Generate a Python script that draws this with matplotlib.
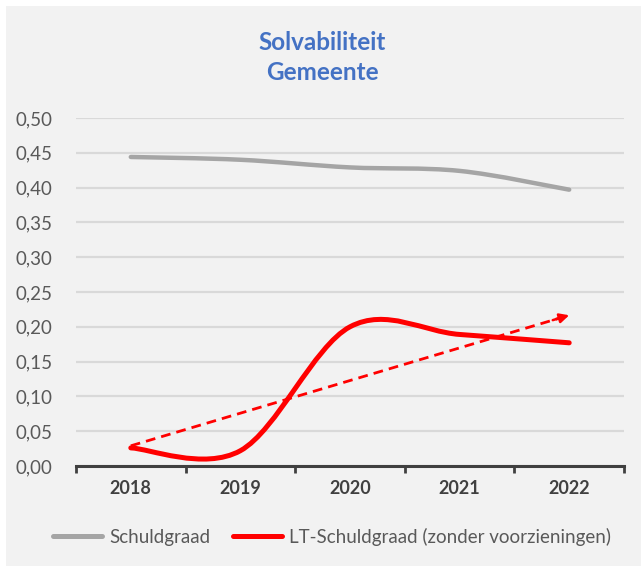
import numpy as np
import matplotlib.pyplot as plt
from matplotlib.path import Path
from matplotlib.patches import PathPatch, Rectangle
from matplotlib.lines import Line2D

plt.rcParams['font.family'] = ['Lato', 'DejaVu Sans']

years = ['2018', '2019', '2020', '2021', '2022']
schuldgraad = [0.444, 0.440, 0.429, 0.424, 0.397]
lt_schuldgraad = [0.026, 0.022, 0.200, 0.189, 0.177]
yticks = [0.0, 0.05, 0.10, 0.15, 0.20, 0.25, 0.30, 0.35, 0.40, 0.45, 0.50]


def smooth_path(xs, ys):
    # Excel-style smoothed line: cubic bezier through every point
    pts = np.column_stack([xs, ys]).astype(float)
    n = len(pts)
    verts = [pts[0]]
    codes = [Path.MOVETO]
    for i in range(n - 1):
        p0 = pts[max(i - 1, 0)]
        p1 = pts[i]
        p2 = pts[i + 1]
        p3 = pts[min(i + 2, n - 1)]
        c1 = p1 + (p2 - p0) / 6
        c2 = p2 - (p3 - p1) / 6
        verts += [c1, c2, p2]
        codes += [Path.CURVE4] * 3
    return Path(verts, codes)


fig = plt.figure(figsize=(6.41, 5.66), dpi=100)
fig.patch.set_facecolor('white')
fig.patches.append(Rectangle((6 / 641, 0), 1, 1 - 6 / 566, transform=fig.transFigure,
                             facecolor='#f2f2f2', edgecolor='none', zorder=-10))

ax = fig.add_axes([76 / 641, 1 - 466 / 566, (624 - 76) / 641, (466 - 118) / 566])
ax.set_facecolor('#f2f2f2')
x = np.arange(len(years))

ax.add_patch(PathPatch(smooth_path(x, schuldgraad), facecolor='none', edgecolor='#a5a5a5',
                       lw=3.2, capstyle='round', zorder=3))
ax.add_patch(PathPatch(smooth_path(x, lt_schuldgraad), facecolor='none', edgecolor='#ff0000',
                       lw=3.6, capstyle='round', zorder=4))

# linear trendline on the LT-Schuldgraad series
slope, icpt = np.polyfit(x, lt_schuldgraad, 1)
tx = np.array([0, 4])
ty = slope * tx + icpt
ax.plot([0, 3.95], slope * np.array([0, 3.95]) + icpt, color='#ff0000', lw=2.0,
        dashes=(3.5, 2.2), zorder=5)
ax.annotate('', xy=(tx[1], ty[1]), xytext=(3.85, slope * 3.85 + icpt),
            arrowprops=dict(arrowstyle='-|>', color='#ff0000', lw=1.8, mutation_scale=14,
                            shrinkA=0, shrinkB=0), zorder=6)

ax.set_xlim(-0.5, 4.5)
ax.set_ylim(0, 0.5)
ax.set_yticks(yticks)
ax.set_yticklabels([f'{v:.2f}'.replace('.', ',') for v in yticks])
ax.grid(axis='y', color='#d9d9d9', lw=1.6)
ax.set_axisbelow(True)

ax.set_xticks(np.arange(-0.5, 5, 1))
ax.set_xticklabels([])
ax.set_xticks(x, minor=True)
ax.set_xticklabels(years, minor=True, fontweight='bold', fontsize=13, color='#404040')
ax.tick_params(axis='x', which='major', direction='out', length=5, width=2, color='#404040')
ax.tick_params(axis='x', which='minor', length=0, pad=10)
ax.tick_params(axis='y', length=0, labelsize=13.5, labelcolor='#595959', pad=17)

for s in ['top', 'right', 'left']:
    ax.spines[s].set_visible(False)
ax.spines['bottom'].set_color('#404040')
ax.spines['bottom'].set_linewidth(2.2)

fig.text(0.503, 1 - 42 / 566, 'Solvabiliteit', ha='center', va='center', fontsize=17.5,
         fontweight='bold', color='#4472c4')
fig.text(0.503, 1 - 73 / 566, 'Gemeente', ha='center', va='center', fontsize=17.5,
         fontweight='bold', color='#4472c4')

handles = [Line2D([], [], color='#a5a5a5', lw=3.6, solid_capstyle='round'),
           Line2D([], [], color='#ff0000', lw=3.6, solid_capstyle='round')]
fig.legend(handles, ['Schuldgraad', 'LT-Schuldgraad (zonder voorzieningen)'],
           loc='center', bbox_to_anchor=(0.518, 1 - 537 / 566), ncol=2, frameon=False,
           fontsize=13.5, labelcolor='#595959', handlelength=2.6, handletextpad=0.4,
           columnspacing=1.2)

fig.savefig('out.png', dpi=100, facecolor=fig.get_facecolor())
